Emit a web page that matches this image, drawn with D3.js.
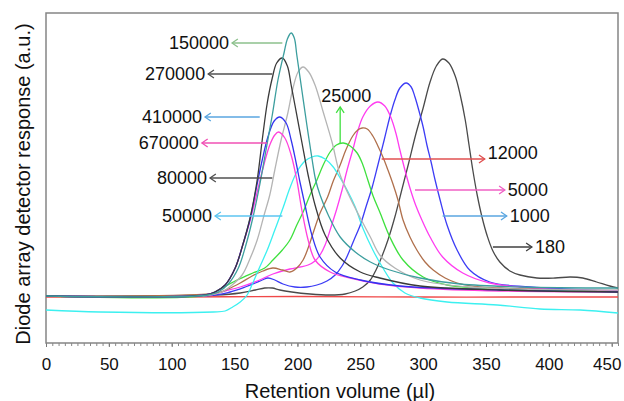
<!DOCTYPE html>
<html>
<head>
<meta charset="utf-8">
<script src="https://cdn.jsdelivr.net/npm/d3@7"></script>
<style>
body { margin: 0; background: #fff; }
svg { display: block; font-family: "Liberation Sans", Arial, sans-serif; }
</style>
</head>
<body>
<svg></svg>
<script>
// elution curves: [retention volume (µl), detector response (a.u.)]
var sBlank = [[0,46],[100,46],[200,46.5],[300,46],[400,46],[455,46]];
var s150000 = [[0,47],[129,48],[137,51],[145,59],[153,75],[159,98],[164.5,125],[170,158],[175,193],[180,228],[184.5,263],[189.5,291],[192,304],[195,310],[197.5,305],[199.5,288],[203.5,253],[207.5,218],[211.5,185],[214.5,163],[218,148],[224.5,128],[234,106],[246,91],[258,81],[273.5,73],[297.5,65],[329.5,59],[377,56],[455,55]];
var s270000 = [[0,47],[126.5,48],[134.5,51],[142.5,58],[150.5,75],[156.5,98],[162.5,126],[168,163],[172,203],[176,240],[180,265],[183.5,280],[188,285],[192,277],[195,258],[198,238],[203.5,201],[208.5,168],[214,138],[222,108],[234,85],[250,71],[265.5,65],[297.5,57],[361,53],[455,51]];
var s80000 = [[0,47],[130.5,48],[140,51],[148,58],[156,68],[162.5,85],[168,103],[173.5,128],[178,148],[182,173],[187,203],[192,228],[196.5,255],[200.5,271],[204.5,276],[209,271],[214,258],[220.5,231],[227.5,201],[234,168],[242,145],[250,125],[258,106],[265.5,88],[277.5,75],[297.5,63],[337,56],[455,53]];
var s410000 = [[0,47],[126.5,48],[134.5,51],[142.5,58],[150.5,75],[156.5,98],[162.5,125],[167,153],[172,183],[176.5,206],[181.5,222],[186,226],[191,220],[195,203],[199,180],[202,161],[206,138],[211.5,108],[218,86],[230,71],[250,63],[281.5,57],[361,53],[455,51]];
var s670000 = [[0,47],[126.5,48],[134.5,51],[142.5,58],[150.5,75],[156.5,98],[162.5,123],[168,151],[173.5,179],[178,198],[182,208],[185,211],[190,205],[195,188],[199.5,163],[203.5,133],[208.5,103],[214,83],[226,71],[242,65],[265.5,59],[297.5,55],[361,52],[455,51]];
var s50000 = [[0,33],[43,31],[133,31],[142.5,32],[148.5,36],[154.5,41],[160,48],[164.5,60],[170,76],[176,93],[182,113],[188.5,135],[194,155],[199.5,171],[206,182],[211.5,186],[216.5,187],[222,184],[228.5,176],[234,165],[239.5,153],[246,136],[252,115],[260,93],[268,75],[276,60],[285.5,50],[297.5,45],[319,41],[359,38],[393,34],[425,33],[455,30]];
var s25000 = [[0,47],[128,48],[140,55],[152,63],[164.5,70],[174,75],[180.5,83],[188,93],[194,103],[199.5,118],[204.5,131],[210,148],[215.5,163],[220.5,178],[226,191],[231,198],[236.5,200],[242,197],[247.5,190],[251.5,180],[256,163],[260.5,146],[265.5,131],[273.5,106],[284,83],[300,66],[319,58],[345,55],[455,51]];
var s12000 = [[0,47],[136,50],[145,54],[154.5,60],[164,67],[172.5,72],[180.5,75],[188,73],[194,71],[199.5,75],[204.5,83],[208.5,95],[212.5,110],[218,130],[224,146],[228.5,162],[234,178],[238.5,193],[244,207],[248,213],[251.5,215],[255.5,214],[260,207],[264,197],[268,186],[272,173],[276,159],[280,143],[284,123],[289.5,106],[295,93],[301.5,81],[308,73],[317.5,65],[327,60],[345,56],[361,55],[455,51]];
var s5000 = [[0,47],[130.5,48],[142.5,52],[154.5,56],[168,62],[180.5,69],[194,74],[202,76],[208.5,78],[214,82],[218,88],[222,98],[226.5,115],[231.5,135],[235.5,153],[239.5,173],[244,193],[248,212],[252,226],[258,237],[264,241],[269.5,237],[274.5,225],[278.5,209],[281.5,193],[285.5,173],[289.5,155],[294,138],[299,123],[305.5,106],[315.5,86],[331.5,70],[353,60],[385,55],[455,52]];
var s1000 = [[0,47],[134.5,48],[146.5,51],[158.5,56],[166.5,60],[172,63],[176.5,65],[182,63],[188.5,59],[198,56],[207.5,56],[215.5,58],[223.5,62],[230,68],[235.5,77],[240,88],[245,103],[250,118],[254.5,136],[259.5,156],[264,178],[269,203],[273.5,226],[277.5,243],[281.5,255],[286.5,260],[290.5,256],[293.5,246],[296.5,233],[300,216],[303,198],[306.5,180],[309.5,163],[313.5,143],[319,118],[327,93],[337,73],[353,61],[385,56],[455,52]];
var s180 = [[0,47],[134.5,48],[154.5,50],[166.5,53],[174,55],[180,55],[186,53],[195.5,51],[210,49],[226,48],[238,49],[246,52],[252,56],[258,63],[262.5,73],[267,86],[272,103],[277.5,126],[283,153],[288.5,180],[294,208],[300,235],[305.5,261],[310.5,277],[315.5,284],[320.5,280],[325.5,267],[329.5,248],[333.5,223],[336.5,198],[339.5,173],[343,148],[347,125],[351,107],[355.5,92],[361,81],[369,72],[377,68],[390.5,65],[405,65],[417,66],[427,65],[438,61],[448.5,57],[455,55]];

var curves = [sBlank, s180, s1000, s5000, s12000, s25000, s50000, s80000, s670000, s410000, s270000, s150000];
var curveColors = ['#f04848', '#4a4a4a', '#3c3cf5', '#ff3cf0', '#b0704c', '#3ee03e', '#3cf0f0', '#b4b4b4', '#ff40dc', '#3434f0', '#3a3a3a', '#3c9e9e'];

// annotations: molar mass label, arrow from [x1,y1] to [x2,y2] in data units
var labels = ['150000', '270000', '410000', '670000', '80000', '50000', '25000', '12000', '5000', '1000', '180'];
var arrows = [[188,300,148,300],[180,269,129,269],[170,226,126.5,226],[176,200,124,200],[180,165,130.5,165],[188,127,134.5,127],[234,200,234,236],[267,184,349,184],[293.5,153,365,153],[315.5,127,366.5,127],[355.5,96,386.5,96]];
var arrowColors = ['#8cc08c', '#505050', '#5aa6e0', '#f050b4', '#505050', '#5cc4f0', '#40e040', '#e05050', '#f060c4', '#5aa6e0', '#404040'];

var xTicks = [0, 50, 100, 150, 200, 250, 300, 350, 400, 450];

var svg = d3.select('svg')
  .attr('width', 624)
  .attr('height', 401);

var x = d3.scaleLinear().domain([0, 455]).range([46, 618]);
var y = d3.scaleLinear().domain([0, 330]).range([343, 13]);

// minor ticks
svg.append('g')
  .attr('transform', 'translate(0,343)')
  .call(d3.axisBottom(x).tickValues(d3.range(0, 456, 5)).tickSize(3).tickFormat(''))
  .call(g => g.select('.domain').remove())
  .call(g => g.selectAll('line').attr('stroke', '#888'));

// major ticks + labels
svg.append('g')
  .attr('transform', 'translate(0,343)')
  .call(d3.axisBottom(x).tickValues(xTicks).tickSize(4))
  .call(g => g.select('.domain').remove())
  .call(g => g.selectAll('line').attr('stroke', '#777'))
  .call(g => g.selectAll('text')
    .attr('y', 27).attr('dy', 0)
    .attr('dx', d => d === 450 ? -5 : 0)
    .attr('fill', '#111')
    .style('font-size', '17px')
    .style('font-family', '"Liberation Sans", Arial, sans-serif'));

// plot frame
svg.append('rect')
  .attr('x', x(0))
  .attr('y', y(330))
  .attr('width', x(455) - x(0))
  .attr('height', y(0) - y(330))
  .attr('fill', 'none')
  .attr('stroke', '#858585')
  .attr('stroke-width', 1.5);

var line = d3.line()
  .x(d => x(d[0]))
  .y(d => y(d[1]))
  .curve(d3.curveCatmullRom.alpha(0.5));

svg.append('g')
  .selectAll('path')
  .data(curves)
  .enter()
  .append('path')
  .attr('d', line)
  .attr('fill', 'none')
  .attr('stroke', (d, i) => curveColors[i])
  .attr('stroke-width', 1.3);

// arrows with open heads
arrows.forEach(function(a, i) {
  var x1 = x(a[0]), y1 = y(a[1]), x2 = x(a[2]), y2 = y(a[3]);
  var ang = Math.atan2(y2 - y1, x2 - x1);
  var len = 7, wing = 0.6;
  var head = 'M' + (x2 - len * Math.cos(ang - wing)) + ',' + (y2 - len * Math.sin(ang - wing)) +
    'L' + x2 + ',' + y2 +
    'L' + (x2 - len * Math.cos(ang + wing)) + ',' + (y2 - len * Math.sin(ang + wing));
  svg.append('line')
    .attr('x1', x1).attr('y1', y1)
    .attr('x2', x2).attr('y2', y2)
    .attr('stroke', arrowColors[i])
    .attr('stroke-width', 1.3);
  svg.append('path')
    .attr('d', head)
    .attr('fill', 'none')
    .attr('stroke', arrowColors[i])
    .attr('stroke-width', 1.3);

  var t = svg.append('text')
    .style('font-size', '18px')
    .attr('fill', '#111')
    .attr('dy', '0.35em')
    .text(labels[i]);
  if (x2 < x1) {
    t.attr('x', x2 - 3).attr('y', y2).style('text-anchor', 'end');
  } else if (x2 > x1) {
    t.attr('x', x2 + 3).attr('y', labels[i] === '12000' ? y2 - 6 : y2).style('text-anchor', 'start');
  } else {
    t.attr('x', x2 + 6).attr('y', y2 - 11).style('text-anchor', 'middle');
  }
});

// axis titles
svg.append('text')
  .attr('x', 340)
  .attr('y', 398)
  .style('text-anchor', 'middle')
  .style('font-size', '20px')
  .attr('fill', '#111')
  .text('Retention volume (\u00b5l)');

svg.append('text')
  .attr('transform', 'translate(30,184) rotate(-90)')
  .style('text-anchor', 'middle')
  .style('font-size', '20px')
  .attr('fill', '#111')
  .text('Diode array detector response (a.u.)');
</script>
</body>
</html>
